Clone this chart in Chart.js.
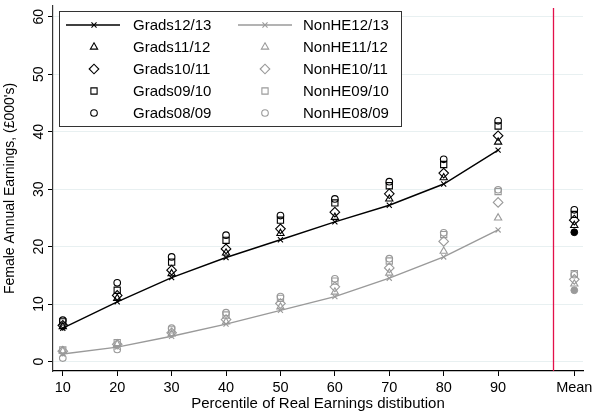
<!DOCTYPE html>
<html>
<head>
<meta charset="utf-8">
<script src="https://cdn.jsdelivr.net/npm/chart.js@4/dist/chart.umd.min.js"></script>
<style>
  html, body { margin: 0; padding: 0; background: #fff; }
  #wrap { width: 592px; height: 413px; position: relative; }
</style>
</head>
<body>
<div id="wrap"><canvas id="earningsChart"></canvas></div>
<script>
// Percentiles of the real earnings distribution, plus the "Mean" column
const percentiles = [10, 20, 30, 40, 50, 60, 70, 80, 90];
const meanX = 104;
const xTicks = [10, 20, 30, 40, 50, 60, 70, 80, 90, 104];
const yTicks = [0, 10, 20, 30, 40, 50, 60];

// Graduates (£000's)
const grads1213 = [5.8, 10.4, 14.6, 18.1, 21.2, 24.3, 27.2, 30.9, 36.8];
const grads1112 = [6.1, 11.0, 15.3, 18.9, 22.3, 25.1, 28.3, 32.0, 38.2];
const grads1011 = [6.3, 11.5, 15.9, 19.6, 23.1, 26.0, 29.2, 32.8, 39.3];
const grads0910 = [6.9, 12.4, 17.3, 21.1, 24.6, 27.6, 30.6, 34.3, 41.0];
const grads0809 = [7.2, 13.7, 18.2, 22.0, 25.4, 28.3, 31.3, 35.2, 41.9];
const gradsMean = [22.5, 23.7, 24.6, 25.6, 26.4]; // 12/13, 11/12, 10/11, 09/10, 08/09

// Non-HE (£000's)
const nonhe1213 = [1.3, 2.5, 4.4, 6.5, 8.9, 11.3, 14.5, 18.2, 22.9];
const nonhe1112 = [1.8, 3.0, 4.8, 6.9, 9.5, 12.1, 15.4, 19.2, 25.0];
const nonhe1011 = [1.8, 3.0, 5.0, 7.3, 10.1, 13.0, 16.3, 20.9, 27.7];
const nonhe0910 = [2.0, 3.3, 5.5, 8.1, 11.0, 14.0, 17.5, 22.1, 29.6];
const nonhe0809 = [0.6, 2.1, 5.8, 8.5, 11.3, 14.4, 17.9, 22.4, 29.9];
const nonheMean = [12.4, 13.5, 14.3, 15.3, 15.1];

const BLACK = '#000000';
const GREY = '#9a9a9a';
const FONT = '"Liberation Sans", Arial, sans-serif';

const markers = {
  cross: { pointStyle: 'crossRot', radius: 3.6 },
  triangle: { pointStyle: 'triangle', radius: 4.2 },
  diamond: { pointStyle: 'rectRot', radius: 4.8 },
  square: { pointStyle: 'rect', radius: 4.4 },
  circle: { pointStyle: 'circle', radius: 3.3 }
};

function pts(values, meanValue) {
  const out = values.map((v, i) => ({ x: percentiles[i], y: v }));
  if (meanValue !== undefined) out.push({ x: meanX, y: meanValue });
  return out;
}

function scatterSet(label, values, meanValue, color, marker) {
  return {
    label: label,
    data: pts(values, meanValue),
    showLine: false,
    borderColor: color,
    backgroundColor: 'transparent',
    pointStyle: markers[marker].pointStyle,
    pointRadius: markers[marker].radius,
    pointBorderWidth: 1.1,
    pointBorderColor: color,
    pointBackgroundColor: 'transparent',
    legendMarker: marker
  };
}

function lineSet(label, values, color) {
  return {
    label: label,
    data: pts(values),
    showLine: true,
    borderColor: color,
    borderWidth: 1.4,
    tension: 0,
    pointStyle: markers.cross.pointStyle,
    pointRadius: markers.cross.radius,
    pointBorderWidth: 1.1,
    pointBorderColor: color,
    pointBackgroundColor: 'transparent',
    legendMarker: 'cross',
    legendLine: true
  };
}

function meanDot(values, color) {
  return {
    label: '_mean',
    data: [{ x: meanX, y: values[0] }],
    showLine: false,
    pointStyle: 'circle',
    pointRadius: 3.4,
    pointBorderWidth: 1,
    pointBorderColor: color,
    pointBackgroundColor: color,
    hideInLegend: true
  };
}

const datasets = [
  lineSet('Grads12/13', grads1213, BLACK),
  lineSet('NonHE12/13', nonhe1213, GREY),
  scatterSet('Grads11/12', grads1112, gradsMean[1], BLACK, 'triangle'),
  scatterSet('NonHE11/12', nonhe1112, nonheMean[1], GREY, 'triangle'),
  scatterSet('Grads10/11', grads1011, gradsMean[2], BLACK, 'diamond'),
  scatterSet('NonHE10/11', nonhe1011, nonheMean[2], GREY, 'diamond'),
  scatterSet('Grads09/10', grads0910, gradsMean[3], BLACK, 'square'),
  scatterSet('NonHE09/10', nonhe0910, nonheMean[3], GREY, 'square'),
  scatterSet('Grads08/09', grads0809, gradsMean[4], BLACK, 'circle'),
  scatterSet('NonHE08/09', nonhe0809, nonheMean[4], GREY, 'circle'),
  meanDot(gradsMean, BLACK),
  meanDot(nonheMean, GREY)
];

// vertical red reference line at x = 100
const refLinePlugin = {
  id: 'refLine',
  beforeDatasetsDraw(chart) {
    const { ctx, chartArea, scales } = chart;
    const x = Math.round(scales.x.getPixelForValue(100)) + 0.5;
    ctx.save();
    ctx.strokeStyle = '#e3104a';
    ctx.lineWidth = 1.3;
    ctx.beginPath();
    ctx.moveTo(x, chartArea.top + 2);
    ctx.lineTo(x, chartArea.bottom);
    ctx.stroke();
    ctx.restore();
  }
};

// y tick labels turned to read upwards, centred on the tick
const yLabelPlugin = {
  id: 'yLabels',
  afterDraw(chart) {
    const { ctx, scales } = chart;
    ctx.save();
    ctx.font = '14px ' + FONT;
    ctx.fillStyle = '#000';
    ctx.textAlign = 'center';
    ctx.textBaseline = 'middle';
    yTicks.forEach(v => {
      const y = scales.y.getPixelForValue(v);
      ctx.save();
      ctx.translate(39, y);
      ctx.rotate(-Math.PI / 2);
      ctx.fillText(String(v), 0, 0);
      ctx.restore();
    });
    ctx.restore();
  }
};

// boxed two-column legend, drawn the Stata way
const boxLegendPlugin = {
  id: 'boxLegend',
  afterDraw(chart) {
    const { ctx } = chart;
    const box = { left: 59.5, top: 11.5, right: 401.5, bottom: 126.5 };
    const cols = [
      { lineFrom: 66, lineTo: 120, mark: 94, text: 133 },
      { lineFrom: 238, lineTo: 292, mark: 265, text: 303 }
    ];
    const rowY = [25, 47, 69, 91, 113];

    ctx.save();
    ctx.fillStyle = '#fff';
    ctx.fillRect(box.left, box.top, box.right - box.left, box.bottom - box.top);
    ctx.strokeStyle = '#333';
    ctx.lineWidth = 1;
    ctx.strokeRect(box.left, box.top, box.right - box.left, box.bottom - box.top);

    ctx.font = '15px ' + FONT;
    ctx.textBaseline = 'middle';
    ctx.textAlign = 'left';

    chart.data.datasets.forEach((ds, i) => {
      if (ds.hideInLegend) return;
      const col = cols[i % 2];
      const y = rowY[Math.floor(i / 2)];
      const color = ds.pointBorderColor;
      if (ds.legendLine) {
        ctx.strokeStyle = color;
        ctx.lineWidth = 1.4;
        ctx.beginPath();
        ctx.moveTo(col.lineFrom, y);
        ctx.lineTo(col.lineTo, y);
        ctx.stroke();
      }
      ctx.strokeStyle = color;
      ctx.fillStyle = 'transparent';
      ctx.lineWidth = 1.1;
      Chart.helpers.drawPoint(ctx, {
        pointStyle: markers[ds.legendMarker].pointStyle,
        radius: markers[ds.legendMarker].radius,
        rotation: 0,
        borderWidth: 1.1
      }, col.mark, y);
      ctx.fillStyle = '#000';
      ctx.fillText(ds.label, col.text, y + 1);
    });
    ctx.restore();
  }
};

new Chart(document.getElementById('earningsChart'), {
  type: 'scatter',
  data: { datasets: datasets },
  options: {
    responsive: true,
    maintainAspectRatio: false,
    animation: false,
    layout: { padding: { top: 5, right: 9, left: 0, bottom: 0 } },
    plugins: {
      legend: { display: false },
      tooltip: { enabled: false }
    },
    scales: {
      x: {
        type: 'linear',
        min: 8.2,
        max: 105.6,
        afterBuildTicks: (axis) => { axis.ticks = xTicks.map(v => ({ value: v })); },
        afterFit: (axis) => {
          axis.height = 42;
          axis.paddingLeft = 0;
          axis.paddingRight = 0;
        },
        ticks: {
          color: '#000',
          font: { family: FONT, size: 14.5 },
          padding: 3,
          maxRotation: 0,
          autoSkip: false,
          callback: (v) => (v === meanX ? 'Mean' : String(v))
        },
        grid: { drawOnChartArea: false, drawTicks: true, tickLength: 5, tickColor: '#000' },
        border: { color: '#000', width: 1.2 },
        title: {
          display: true,
          text: 'Percentile of Real Earnings distibution',
          color: '#000',
          font: { family: FONT, size: 15 },
          padding: { top: 0, bottom: 0 }
        }
      },
      y: {
        type: 'linear',
        min: -1.65,
        max: 61.9,
        afterBuildTicks: (axis) => { axis.ticks = yTicks.map(v => ({ value: v })); },
        afterFit: (axis) => {
          axis.width = 53;
          axis.paddingTop = 0;
          axis.paddingBottom = 0;
        },
        ticks: { display: false },
        grid: { color: '#e8f0f1', lineWidth: 1, drawTicks: true, tickLength: 5, tickColor: '#000' },
        border: { color: '#333', width: 1.2 },
        title: {
          display: true,
          text: "Female Annual Earnings, (£000's)",
          color: '#000',
          font: { family: FONT, size: 14 },
          padding: { top: 2, bottom: 0 }
        }
      }
    }
  },
  plugins: [refLinePlugin, yLabelPlugin, boxLegendPlugin]
});
</script>
</body>
</html>
